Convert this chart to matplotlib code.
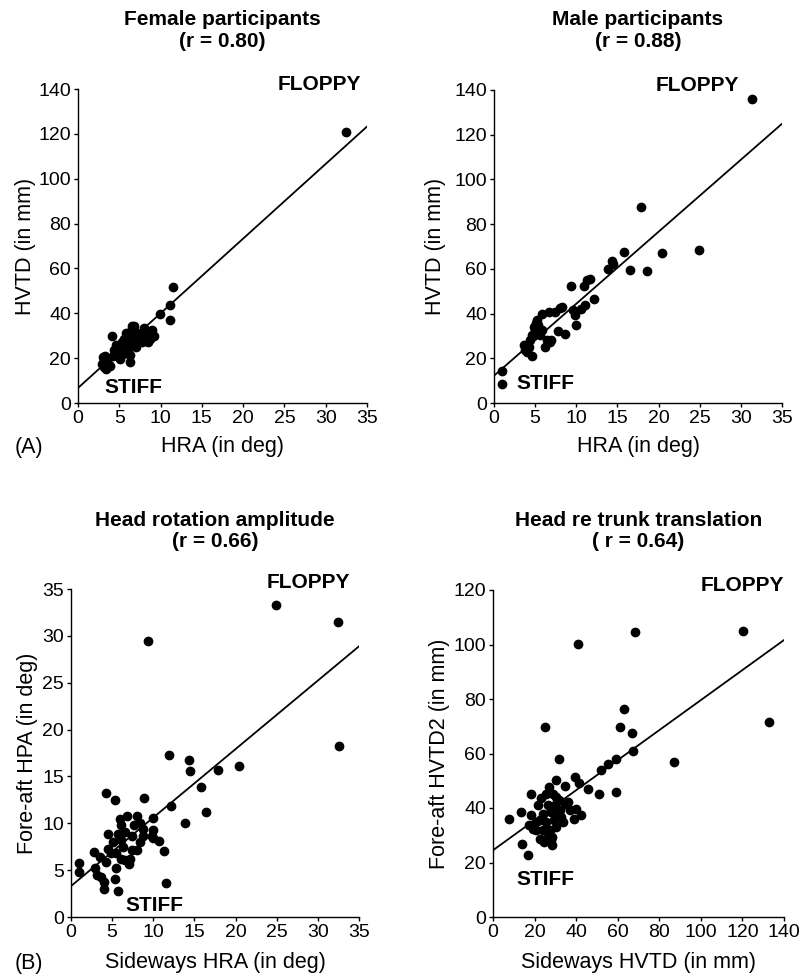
import numpy as np
import matplotlib
matplotlib.use('Agg')
import matplotlib.pyplot as plt

plt.rcParams['font.family'] = ['Liberation Sans', 'DejaVu Sans']

# (A) female participants: HRA (deg) vs HVTD (mm)
fem_hra = [32.5, 11.5, 11.1, 11.1, 9.9, 4.1, 2.9, 3.0, 3.1, 3.2, 3.4, 3.5, 3.7,
           3.9, 4.2, 4.4, 4.6, 4.9, 5.1, 5.3, 5.4, 5.6, 5.8, 6.0, 6.0, 6.1,
           6.2, 6.3, 6.4, 6.5, 6.6, 6.8, 7.0, 7.0, 7.2, 7.4, 7.5, 7.8, 8.0,
           8.1, 8.3, 8.5, 8.7, 8.9, 9.0, 9.2, 5.0, 5.7, 6.7, 7.3, 4.7, 3.3,
           6.3, 5.5]
fem_hvtd = [121, 51.5, 43.5, 37, 39.5, 30, 17.5, 20.5, 16, 19, 15, 18.5, 17,
            16.5, 21, 23.5, 26, 25, 19.5, 27, 22, 28.5, 31, 30.5, 26, 24,
            29, 18.5, 32, 34.5, 27.5, 34.5, 29, 25, 31, 28, 30, 27, 33.5,
            29.5, 31, 27, 28.5, 30, 32.5, 30, 23.5, 27.5, 30, 29, 22, 21,
            21.5, 25]

# (A) male participants
male_hra = [31.3, 17.9, 24.9, 20.4, 18.6, 16.5, 15.8, 14.3, 14.5, 13.8, 12.1,
            11.7, 11.3, 10.9, 11.0, 10.6, 9.4, 9.6, 9.8, 10.0, 8.3, 8.0, 7.4,
            6.7, 5.8, 7.8, 8.6, 6.9, 6.2, 6.4, 5.2, 5.0, 5.4, 5.6, 4.8, 4.4,
            4.6, 4.2, 4.0, 3.6, 3.8, 4.6, 1.0, 1.0, 5.8, 6.8, 5.1, 4.9]
male_hvtd = [136, 87.5, 68.5, 67, 59, 59.5, 67.5, 63.5, 62, 60, 46.5, 55.5,
             55, 52.5, 44, 42, 52.5, 41.5, 39.5, 35, 43, 42.5, 40.5, 40.5,
             40, 32, 31, 28, 25, 28, 37, 33, 35, 30.5, 30, 28, 21, 25, 23,
             26, 23.5, 30.5, 14.5, 8.5, 32.5, 27.5, 36, 34]

# (B) head rotation amplitude: sideways HRA vs fore-aft HPA (deg)
side_hra = [24.9, 32.5, 32.6, 9.4, 11.9, 14.3, 14.5, 17.9, 20.4, 15.8, 16.4,
            13.8, 12.1, 8.9, 4.3, 5.3, 10.0, 10.7, 11.3, 11.5, 5.7, 4.0, 1.0,
            1.0, 2.8, 2.9, 3.1, 3.7, 4.0, 3.5, 4.3, 4.5, 4.5, 5.1, 5.3, 5.5,
            5.7, 5.9, 6.1, 6.3, 6.8, 7.0, 7.2, 7.4, 7.6, 8.0, 8.0, 8.4, 8.4,
            8.8, 8.8, 9.8, 10.0, 10.0, 4.9, 5.5, 6.1, 6.6, 7.4, 6.1, 6.6]
fore_hpa = [33.3, 31.5, 18.2, 29.5, 17.3, 16.7, 15.6, 15.7, 16.1, 13.9, 11.2,
            10.0, 11.8, 12.7, 13.2, 12.5, 10.6, 8.1, 7.0, 3.6, 2.8, 3.0, 5.8,
            4.8, 6.9, 5.2, 4.5, 4.3, 3.7, 6.4, 5.9, 8.9, 7.3, 8.0, 4.1, 5.2,
            8.9, 10.5, 6.2, 7.5, 10.8, 5.7, 6.2, 8.6, 9.8, 10.8, 7.1, 10.0,
            8.0, 9.4, 8.6, 8.6, 9.3, 8.4, 6.8, 6.8, 8.2, 9.1, 7.1, 9.8, 6.1]

# (B) head re trunk translation: sideways HVTD vs fore-aft HVTD2 (mm)
side_hvtd = [120.4, 68.1, 40.9, 132.9, 87.2, 62.9, 61.2, 66.9, 67.3, 59.1,
             55.4, 51.9, 59.1, 51.1, 45.6, 41.4, 39.5, 31.8, 25.2, 18.5, 13.7,
             7.7, 14.1, 16.8, 28.6, 42.5, 38.8, 40.1, 34.8, 30.5, 34.5, 33.7,
             18.5, 19.3, 20.9, 21.7, 22.5, 23.3, 24.1, 24.4, 25.7, 25.7, 26.5,
             27.0, 27.3, 28.1, 28.4, 28.9, 29.4, 29.7, 30.2, 30.5, 30.8, 31.8,
             32.1, 32.9, 36.1, 36.9, 17.3, 20.9, 22.5, 28.1, 26.5, 24.1]
fore_hvtd2 = [105, 104.7, 100.2, 71.6, 56.7, 76.5, 69.8, 67.7, 61.0, 57.8,
              56.1, 54.1, 45.7, 45.1, 47.0, 49.0, 51.2, 57.8, 69.8, 45.1, 38.6,
              35.8, 26.9, 22.7, 26.3, 37.6, 36.1, 39.8, 41.4, 50.4, 48.0, 34.9,
              37.3, 32.4, 34.9, 41.0, 28.8, 43.5, 37.9, 27.6, 45.3, 34.9, 41.0,
              47.7, 31.8, 38.6, 29.4, 45.3, 35.5, 41.0, 44.1, 33.0, 37.3, 42.9,
              39.2, 36.7, 42.2, 39.2, 33.7, 31.8, 35.5, 28.2, 30.6, 31.8]

# regression lines (intercept, slope)
fit_lines = [(6.7, 3.33), (12.2, 3.22), (3.3, 0.731), (24.5, 0.551)]

titles = ['Female participants\n(r = 0.80)', 'Male participants\n(r = 0.88)',
          'Head rotation amplitude\n(r = 0.66)',
          'Head re trunk translation\n( r = 0.64)']
xlabels = ['HRA (in deg)', 'HRA (in deg)', 'Sideways HRA (in deg)',
           'Sideways HVTD (in mm)']
ylabels = ['HVTD (in mm)', 'HVTD (in mm)', 'Fore-aft HPA (in deg)',
           'Fore-aft HVTD2 (in mm)']
xticks = [np.arange(0, 36, 5), np.arange(0, 36, 5), np.arange(0, 36, 5),
          np.arange(0, 141, 20)]
yticks = [np.arange(0, 141, 20), np.arange(0, 141, 20), np.arange(0, 36, 5),
          np.arange(0, 121, 20)]
# (x, y) of the FLOPPY / STIFF labels in data units
floppy_pos = [(29.2, 142), (24.7, 142), (28.9, 35.7), (119.8, 121.8)]
stiff_pos = [(6.7, 7.1), (6.2, 8.9), (10.1, 1.2), (25, 13.6)]

W, H = 799, 975
fig = plt.figure(figsize=(W / 100, H / 100), dpi=100)

# axes boxes in pixels: left, top, right, bottom
boxes = [(78, 89, 367, 403), (494, 90, 782, 403),
         (71, 589, 359, 917), (493, 590, 784, 917)]
ylab_x = [25, 435, 28, 440]
title_y = [30.5, 30.5, 531, 531]

data = [(fem_hra, fem_hvtd), (male_hra, male_hvtd),
        (side_hra, fore_hpa), (side_hvtd, fore_hvtd2)]

for i, (l, t, r, b) in enumerate(boxes):
    ax = fig.add_axes([l / W, 1 - b / H, (r - l) / W, (b - t) / H])
    x, y = data[i]
    ax.plot(x, y, 'o', color='black', markersize=6, clip_on=False)

    xt, yt = xticks[i], yticks[i]
    a, k = fit_lines[i]
    xs = np.array([xt[0], xt[-1]])
    ax.plot(xs, a + k * xs, color='black', linewidth=1.3)

    ax.set_xlim(xt[0], xt[-1])
    ax.set_ylim(yt[0], yt[-1])
    ax.set_xticks(xt)
    ax.set_yticks(yt)
    for side in ['top', 'right']:
        ax.spines[side].set_visible(False)
    for side in ['left', 'bottom']:
        ax.spines[side].set_linewidth(1.0)
    ax.tick_params(direction='out', length=3, width=1.0, labelsize=14, pad=2)

    ax.set_xlabel(xlabels[i], fontsize=15.5, va='center')
    ax.xaxis.set_label_coords(0.5, -0.14)
    ax.set_ylabel(ylabels[i], fontsize=15.5, va='center')
    ax.yaxis.set_label_coords((ylab_x[i] - l) / (r - l), 0.5)

    ax.text(0.5, (b - title_y[i]) / (b - t), titles[i], transform=ax.transAxes,
            ha='center', va='center', fontsize=15, fontweight='bold',
            linespacing=1.15)

    ax.text(*floppy_pos[i], 'FLOPPY', ha='center', va='center',
            fontsize=15, fontweight='bold', clip_on=False)
    ax.text(*stiff_pos[i], 'STIFF', ha='center', va='center',
            fontsize=15, fontweight='bold', clip_on=False)

fig.text(15 / W, 1 - 447 / H, '(A)', fontsize=15.5, va='center', ha='left')
fig.text(15 / W, 1 - 963 / H, '(B)', fontsize=15.5, va='center', ha='left')

fig.savefig('out.png', dpi=100)
